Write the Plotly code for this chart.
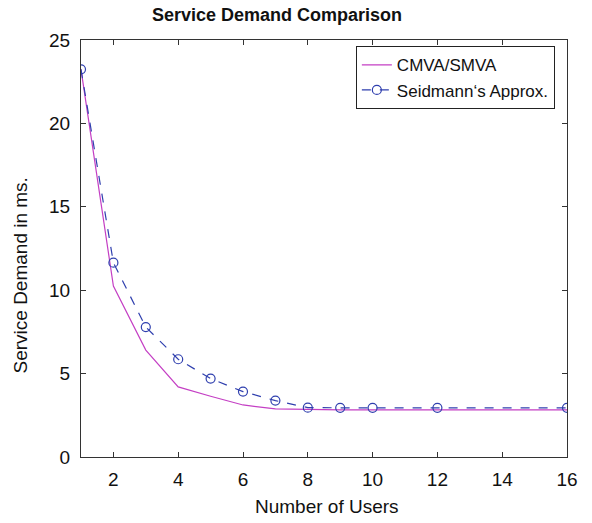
import plotly.graph_objects as go

users_cmva = [1, 2, 3, 4, 5, 6, 7, 8, 9, 10, 11, 12, 13, 14, 15, 16]
demand_cmva = [23.24, 10.25, 6.41, 4.20, 3.64, 3.12, 2.88, 2.84, 2.83, 2.83, 2.83, 2.83, 2.83, 2.83, 2.83, 2.83]
users_seid = [1, 2, 3, 4, 5, 6, 7, 8, 9, 10, 12, 16]
demand_seid = [23.24, 11.65, 7.79, 5.86, 4.70, 3.92, 3.38, 2.96, 2.95, 2.95, 2.95, 2.95]

FONT = "Liberation Sans, Arial, Helvetica, sans-serif"

fig = go.Figure()
fig.add_trace(go.Scatter(
    x=users_cmva, y=demand_cmva, mode="lines", name="CMVA/SMVA",
    line=dict(color="#c43fc4", width=1.2),
))
fig.add_trace(go.Scatter(
    x=users_seid, y=demand_seid, mode="lines+markers", name="Seidmann\u2018s Approx.",
    line=dict(color="#2f3fae", width=1.2, dash="dash"),
    marker=dict(symbol="circle-open", size=9, color="#2f3fae", line=dict(width=1.2)),
))

axis_common = dict(
    showline=True, linecolor="#333333", linewidth=1, mirror="ticks",
    ticks="inside", ticklen=5, tickcolor="#333333", showgrid=False, zeroline=False,
    tickfont=dict(family=FONT, size=19, color="#111111"),
)
fig.update_xaxes(range=[1, 16], tickvals=[2, 4, 6, 8, 10, 12, 14, 16],
                 ticklabelstandoff=5, **axis_common)
fig.update_yaxes(range=[0, 25], tickvals=[0, 5, 10, 15, 20, 25],
                 ticklabelstandoff=6, **axis_common)

pw = 592 - 81 - 25
fig.update_layout(
    width=592, height=523,
    margin=dict(l=81, r=25, t=40, b=66),
    paper_bgcolor="white", plot_bgcolor="white",
    showlegend=True,
    legend=dict(
        x=0.975, xanchor="right", y=0.985, yanchor="top",
        bgcolor="white", bordercolor="#222222", borderwidth=1,
        font=dict(family=FONT, size=17, color="#111111"),
        tracegroupgap=0, itemwidth=30,
    ),
    annotations=[
        dict(text="<b>Service Demand Comparison</b>", x=(277 - 81) / pw, xref="paper", y=1, yref="paper",
             showarrow=False, font=dict(family=FONT, size=18, color="#111111"),
             xanchor="center", yanchor="bottom", yshift=13),
        dict(text="Number of Users", x=(327 - 81) / pw, xref="paper", y=0, yref="paper",
             showarrow=False, font=dict(family=FONT, size=19, color="#111111"),
             xanchor="center", yanchor="top", yshift=-37),
        dict(text="Service Demand in ms.", x=0, xref="paper", y=0.5, yref="paper",
             showarrow=False, font=dict(family=FONT, size=19, color="#111111"),
             textangle=-90, xanchor="center", yanchor="middle", xshift=-61, yshift=-27),
    ],
)

fig.write_html("out.html")
